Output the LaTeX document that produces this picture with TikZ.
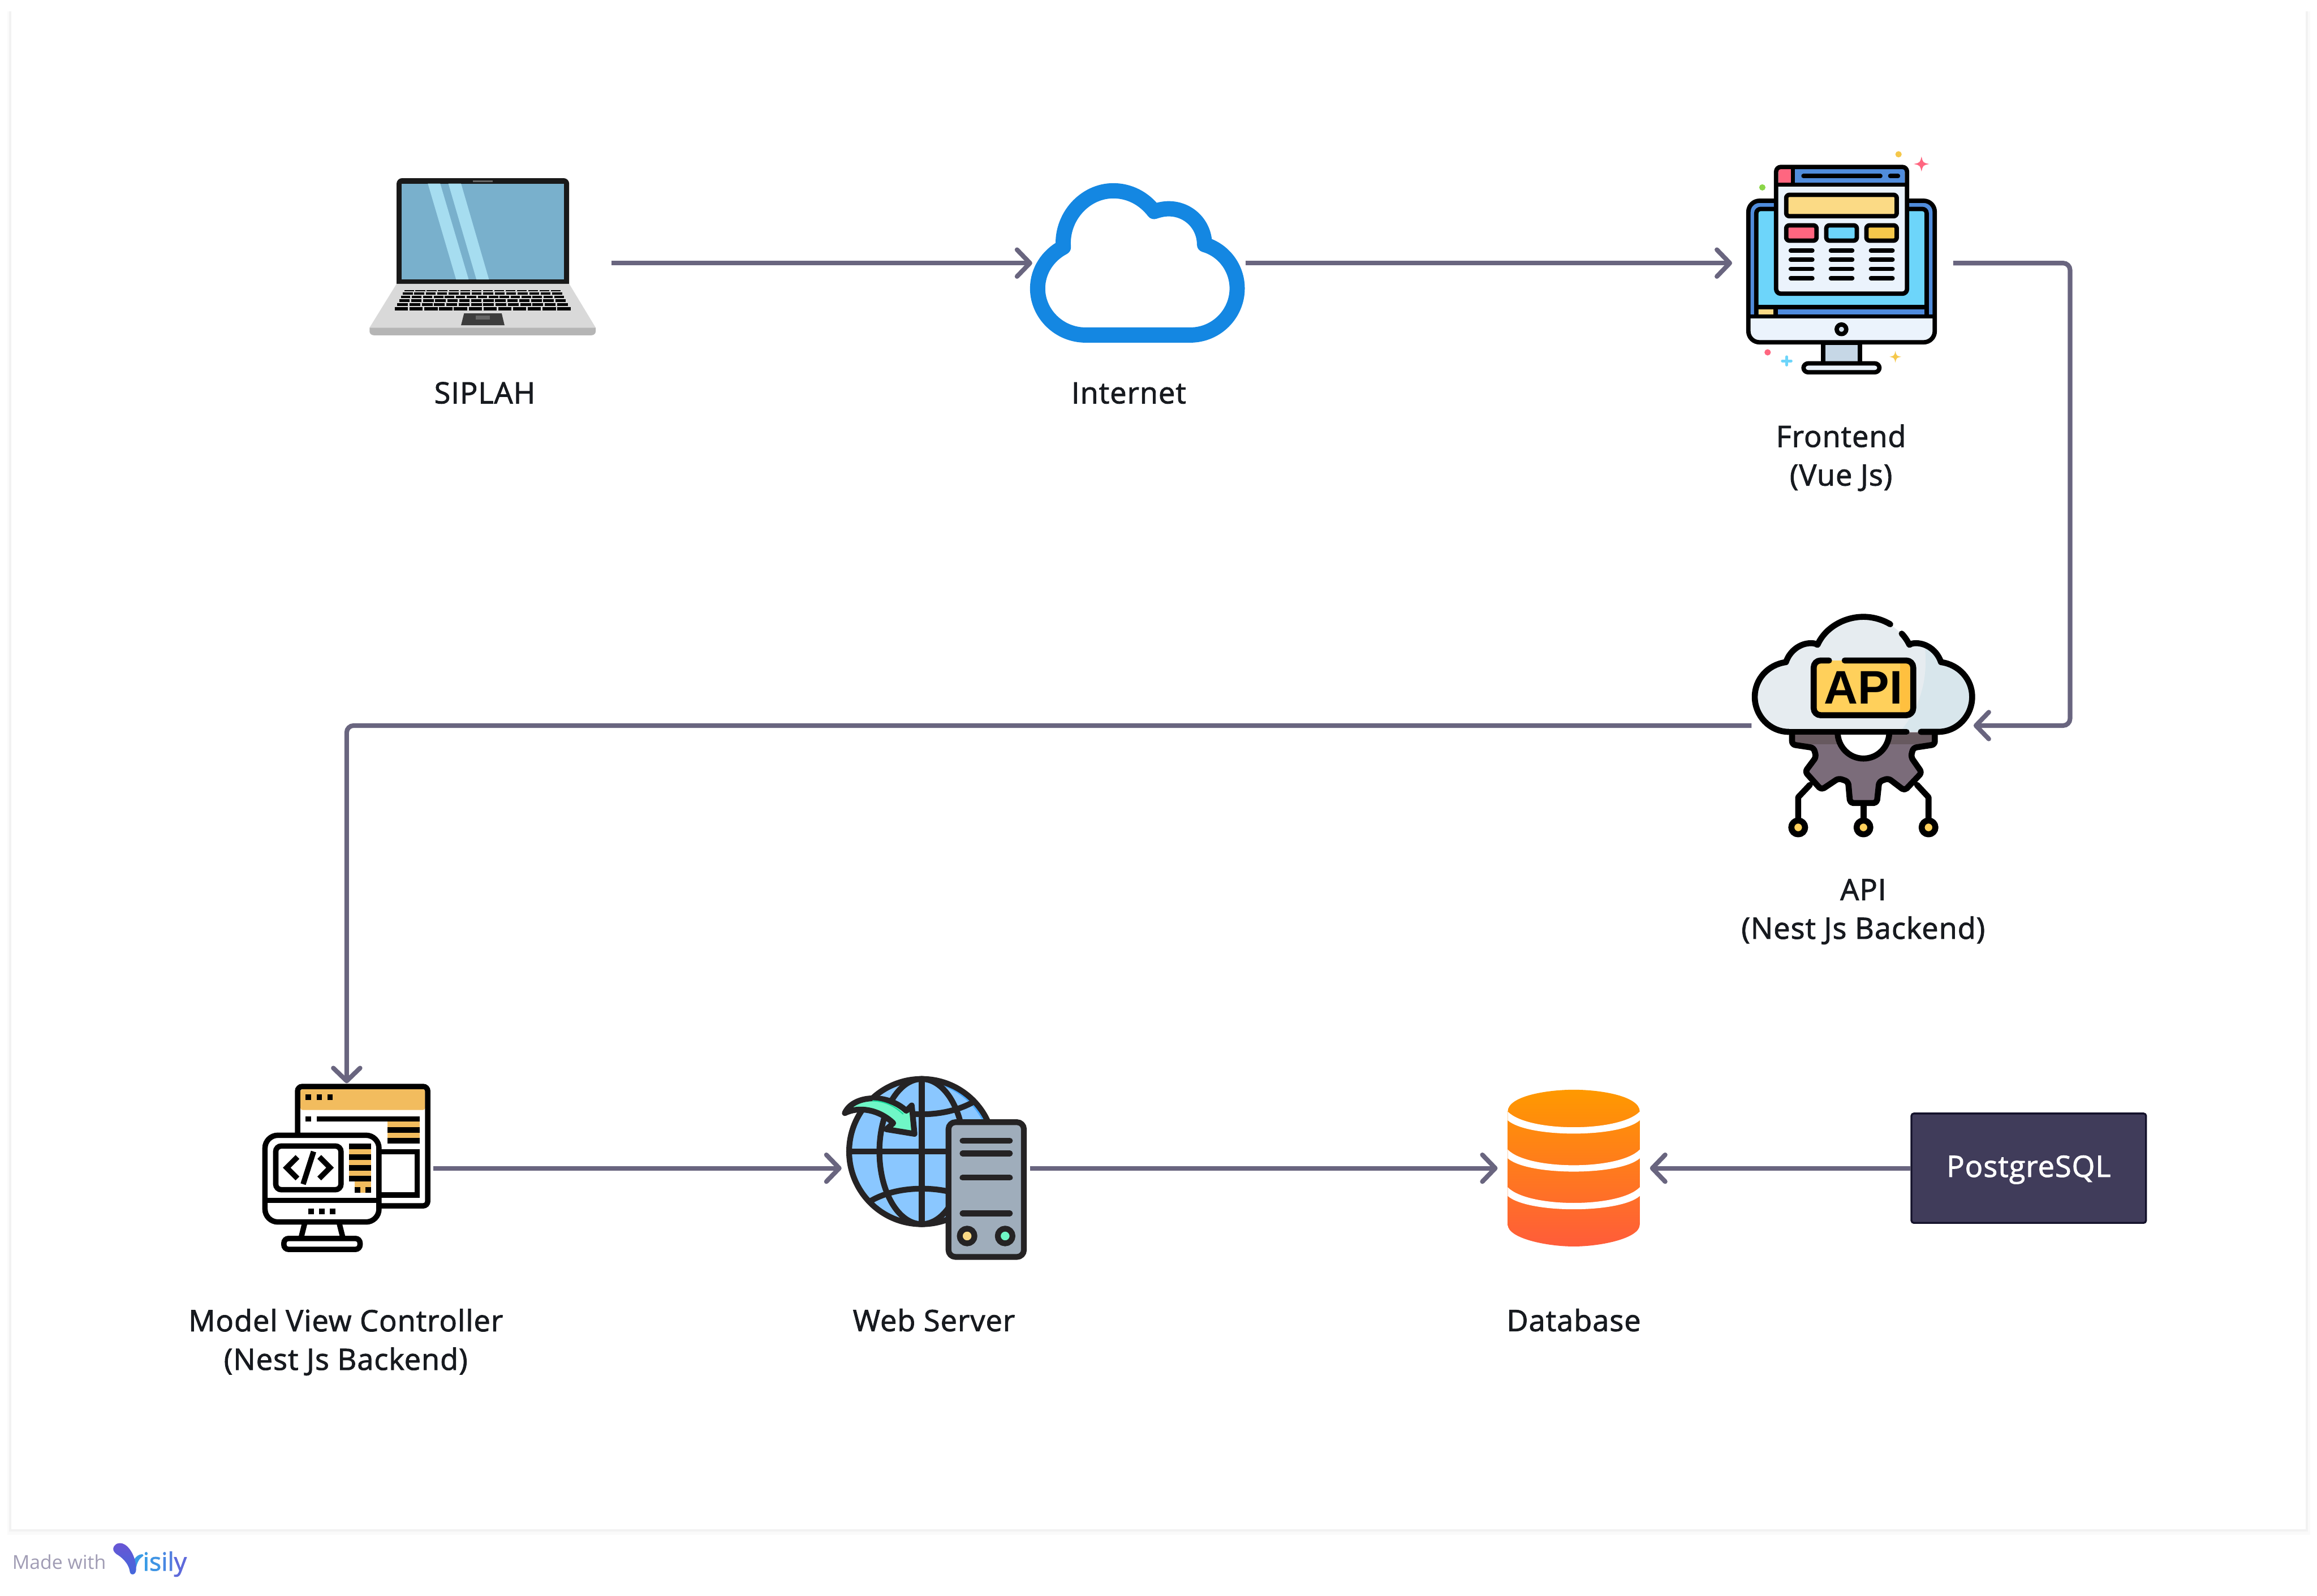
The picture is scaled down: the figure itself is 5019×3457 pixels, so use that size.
\documentclass[tikz,border=0pt]{standalone}
\usepackage{fontspec}
\setmainfont{Open Sans}[FakeBold=1.8,LetterSpace=2]
\newfontfamily\glyphfont{Liberation Sans}
\newfontfamily\plainfont{Open Sans}
\usetikzlibrary{arrows.meta,positioning,calc}
\definecolor{flow}{HTML}{69657F}
\definecolor{ink}{HTML}{171A1F}
\definecolor{night}{HTML}{403C5A}
\definecolor{nightedge}{HTML}{14122B}
\definecolor{fade}{HTML}{A09CB4}
\definecolor{skyline}{HTML}{1487E2}
\definecolor{screenblue}{HTML}{79B0CC}
\definecolor{glare}{HTML}{A6DDF0}
\definecolor{framefill}{HTML}{508CDC}
\definecolor{panel}{HTML}{6DD5FA}
\definecolor{paper}{HTML}{EBF3FC}
\definecolor{butter}{HTML}{FBDA85}
\definecolor{rosey}{HTML}{FF6680}
\definecolor{mustard}{HTML}{F5C84B}
\definecolor{steel}{HTML}{C6D7E6}
\definecolor{leaf}{HTML}{8BD648}
\definecolor{cloudpale}{HTML}{E6ECF0}
\definecolor{cloudshade}{HTML}{D8E6EC}
\definecolor{cog}{HTML}{7B6C7A}
\definecolor{cogdark}{HTML}{67595F}
\definecolor{amber}{HTML}{FFD05B}
\definecolor{amberdark}{HTML}{FFC03F}
\definecolor{sand}{HTML}{F2BC5E}
\definecolor{coal}{HTML}{252324}
\definecolor{globe}{HTML}{8AC7FF}
\definecolor{globedark}{HTML}{4AA8FF}
\definecolor{mint}{HTML}{6FF7C6}
\definecolor{mintdark}{HTML}{19D99B}
\definecolor{rack}{HTML}{9FADBB}
\definecolor{dbtop}{HTML}{FF9900}
\definecolor{dbbottom}{HTML}{FF5C3A}
\definecolor{logopurple}{HTML}{6A55D4}
\definecolor{logoblue}{HTML}{4169DC}
\definecolor{logosky}{HTML}{3A9BE6}
\definecolor{logolate}{HTML}{5E6ADB}
\tikzset{
  flowline/.style={flow,line width=1mm,-{Straight Barb[length=2.8mm,width=5.8mm,round,line width=1mm]}},
  iconbox/.style={inner sep=0pt,outer sep=0pt},
  caption/.style={font=\fontsize{18.2}{23.8}\selectfont,text=ink,align=center,anchor=base,inner sep=0pt},
  thinline/.style={line width=.95mm,line join=round},
  blackline/.style={line width=1.17mm},
  coalline/.style={draw=coal,line width=1.25mm,line cap=round,line join=round},
  cloudline/.style={line width=1.3mm,line cap=round,line join=round}
}
\begin{document}
\begin{tikzpicture}[x=0.1mm,y=-0.1mm]
\useasboundingbox (0,0) rectangle (5019,3457);
\fill[white] (0,0) rectangle (5019,3457);
% page frame
\fill[black!2] (16,24) rectangle (5004,3326);
\fill[black!5] (20,24) rectangle (4999,3318);
\fill[white] (24,24) rectangle (4995,3313);

% laptop
\begin{scope}[shift={(750,330)},x=0.03827mm,y=-0.03333mm]
  \fill[black!90,rounded corners=1.2mm] (285,168) rectangle (1262,900);
  \fill[screenblue] (313,203) rectangle (1233,827);
  \fill[glare] (462,203) -- (532,203) -- (693,827) -- (622,827) -- cycle;
  \fill[glare] (578,203) -- (650,203) -- (808,827) -- (737,827) -- cycle;
  \fill[black!60] (718,181) rectangle (828,192);
  \fill[black!15] (285,855) -- (1262,855) -- (1412,1140) -- (132,1140) -- cycle;
  \fill[black!29] (132,1140) -- (1412,1140) -- (1412,1165) .. controls (1412,1180) and (1400,1190) .. (1385,1190)
    -- (160,1190) .. controls (145,1190) and (132,1180) .. (132,1165) -- cycle;
  \foreach \ya/\yb/\xa/\xb/\n in {895/905/328/1213/14,910/925/320/1222/14,932/948/310/1232/15,
    955/972/300/1242/14,982/998/288/1255/14,1008/1027/275/1270/12}{
    \pgfmathsetmacro\kw{(\xb-\xa+9)/\n}
    \foreach \i in {1,...,\n}{
      \fill[black] ({\xa+(\i-1)*\kw},\ya) rectangle ({\xa+\i*\kw-9},\yb);
    }
  }
  \fill[black!76] (667,1047) -- (880,1047) -- (896,1124) -- (650,1124) -- cycle;
  \fill[black!60] (733,1062) rectangle (813,1087);
\end{scope}

% internet cloud
\begin{scope}[shift={(2200,370)},x=0.03333mm,y=-0.03333mm]
  \draw[skyline,line width=3.3mm,line join=round] (455,1068) .. controls (283,1068) and (143,930) .. (143,765)
    .. controls (143,650) and (210,550) .. (310,497)
    .. controls (295,300) and (450,130) .. (635,130) .. controls (740,130) and (835,180) .. (900,265)
    .. controls (935,253) and (965,247) .. (995,247) .. controls (1125,247) and (1228,350) .. (1228,480)
    .. controls (1350,515) and (1440,630) .. (1440,765) .. controls (1440,930) and (1305,1068) .. (1135,1068) -- cycle;
\end{scope}

% frontend monitor
\begin{scope}[shift={(3700,300)},x=0.03827mm,y=-0.03571mm]
  \fill[framefill,rounded corners=2.4mm] (228,378) rectangle (1283,1237);
  \begin{scope}
    \clip (100,1080) rectangle (1400,1300);
    \fill[paper,rounded corners=2.4mm] (228,378) rectangle (1283,1237);
  \end{scope}
  \filldraw[fill=panel,thinline,rounded corners=.9mm] (273,1080) -- (273,428) -- (1237,428) -- (1237,1080);
  \fill[framefill] (395,1030) rectangle (1225,1075);
  \fill[butter] (286,1030) rectangle (371,1075);
  \draw[thinline] (273,1023) -- (1237,1023);
  \draw[thinline] (383,1023) -- (383,1080);
  \draw[thinline] (228,1080) -- (1283,1080);
  \draw[thinline,rounded corners=2.4mm] (228,378) rectangle (1283,1237);
  \filldraw[fill=steel!80!white,thinline] (755,1158) ellipse [x radius=27,y radius=29];
  \filldraw[fill=steel,thinline] (651,1240) rectangle (860,1365);
  \filldraw[fill=paper,thinline,rounded corners=1mm] (540,1365) rectangle (970,1419);
  % browser window
  \fill[paper,rounded corners=1mm] (385,173) rectangle (1126,942);
  \fill[rosey] (397,185) rectangle (468,268);
  \fill[framefill] (492,185) rectangle (1113,268);
  \draw[thinline] (385,280) -- (1126,280);
  \draw[thinline] (480,173) -- (480,280);
  \draw[thinline,rounded corners=1mm] (385,173) rectangle (1126,942);
  \draw[thinline,line cap=round] (540,228) -- (975,228);
  \draw[thinline,line cap=round] (1031,228) -- (1075,228);
  \filldraw[fill=butter,thinline,rounded corners=.7mm] (442,342) rectangle (1068,472);
  \foreach \xa/\xb/\c in {442/614/rosey,669/842/panel,896/1068/mustard}{
    \filldraw[fill=\c,thinline,rounded corners=.7mm] (\xa,527) rectangle (\xb,620);
  }
  \foreach \y in {680,736,792,848}{
    \foreach \xa/\xb in {468/590,695/816,922/1044}{
      \draw[thinline,line cap=round] (\xa,\y) -- (\xb,\y);
    }
  }
  % sparkles
  \fill[mustard] (1078,96) ellipse [x radius=18,y radius=19];
  \fill[leaf] (307,297) ellipse [x radius=18,y radius=19];
  \fill[rosey] (337,1298) ellipse [x radius=18,y radius=19];
  \draw[panel,line width=.6mm,line cap=round] (445,1325) -- (445,1375);
  \draw[panel,line width=.6mm,line cap=round] (420,1350) -- (470,1350);
  \foreach \sx/\sy/\sc/\sk in {1208/155/rosey/1,1060/1325/mustard/.76}{
    \fill[\sc,shift={(\sx,\sy)},scale=\sk] (0,-46) .. controls (8,-8) .. (44,0) .. controls (8,8) .. (0,46)
      .. controls (-8,8) .. (-44,0) .. controls (-8,-8) .. (0,-46) -- cycle;
  }
\end{scope}

% api cloud and cog
\begin{scope}[shift={(3680,1290)},x=0.04146mm,y=-0.03571mm]
  \def\cloudtop{(470,828) .. controls (370,828) and (292,730) .. (292,615) .. controls (292,510) and (360,420) .. (455,405)
    .. controls (475,335) and (530,290) .. (585,290) .. controls (600,290) and (610,292) .. (620,300)
    .. controls (660,195) and (760,130) .. (860,130) .. controls (910,130) and (960,147) .. (1000,175)}
  \def\cloudright{.. controls (1075,250) and (1090,275) .. (1100,300) .. controls (1110,292) and (1120,290) .. (1135,290)
    .. controls (1190,290) and (1245,335) .. (1265,405) .. controls (1360,420) and (1428,510) .. (1428,615)
    .. controls (1428,730) and (1350,828) .. (1250,828) -- (1160,828)}
  % circuit legs
  \draw[cloudline] (580,1150) -- (519,1225) -- (519,1360);
  \draw[cloudline] (860,1275) -- (860,1360);
  \draw[cloudline] (1140,1150) -- (1200,1225) -- (1200,1360);
  \foreach \x in {519,860,1200}{
    \filldraw[fill=amber,cloudline] (\x,1408) ellipse [x radius=36,y radius=42];
  }
  \fill[cog,rounded corners=.5mm] (487,830) -- (487,895) -- (600,925) -- (613,980) -- (555,1070) -- (640,1180)
    -- (730,1110) -- (780,1130) -- (790,1260) -- (930,1260) -- (942,1130) -- (990,1110) -- (1075,1185)
    -- (1165,1075) -- (1108,980) -- (1120,925) -- (1233,895) -- (1233,830) -- cycle;
  \fill[cogdark] (503,830) rectangle (1217,905);
  \draw[cloudline,rounded corners=.7mm] (487,830) -- (487,905) -- (600,925) -- (613,980) -- (555,1070) -- (640,1180)
    -- (730,1110) -- (780,1130) -- (790,1260) -- (930,1260) -- (942,1130) -- (990,1110) -- (1075,1185)
    -- (1165,1075) -- (1108,980) -- (1120,925) -- (1233,905) -- (1233,830);
  \filldraw[fill=white,cloudline] (725,830) arc[start angle=180,end angle=0,x radius=135,y radius=160];
  \fill[cloudpale] \cloudtop -- (1060,232) \cloudright -- cycle;
  \begin{scope}
    \clip \cloudtop -- (1060,232) \cloudright -- cycle;
    \fill[cloudshade] (1180,300) .. controls (1200,500) and (1160,680) .. (1050,828) -- (1500,828) -- (1500,300) -- cycle;
  \end{scope}
  \draw[cloudline] \cloudtop;
  \draw[cloudline] (1060,232) \cloudright;
  \draw[cloudline] (1085,828) -- (470,828);
  % api badge
  \fill[amber,rounded corners=1.2mm] (600,395) rectangle (1120,727);
  \fill[amberdark] (1050,413) rectangle (1103,707);
  \draw[cloudline,rounded corners=1.5mm] (762,395) -- (1120,395) -- (1120,727) -- (600,727) -- (600,395) -- (680,395);
  \node[inner sep=0pt,font=\glyphfont\bfseries\fontsize{29}{29}\selectfont] (apibadge) at (860,560) {API};
\end{scope}

% mvc windows
\begin{scope}[shift={(530,2300)},x=0.03333mm,y=-0.03333mm]
  \fill[white,rounded corners=1mm] (344,162) rectangle (1190,938);
  \fill[sand,rounded corners=.5mm] (362,180) rectangle (1173,315);
  \draw[blackline,rounded corners=1mm] (344,162) rectangle (1190,938);
  \foreach \x in {396,467,537}{
    \fill[black] (\x,214) rectangle ++(36,36);
  }
  \fill[black] (396,355) rectangle (432,391);
  \fill[black] (467,355) rectangle (1138,391);
  \fill[sand] (927,391) rectangle (1138,497);
  \fill[black] (927,426) rectangle (1138,462);
  \fill[black] (927,497) rectangle (1138,533);
  \fill[black] (800,568) rectangle (1138,885);
  \fill[white] (800,603) rectangle (1104,850);
  \filldraw[fill=white,blackline,rounded corners=2.8mm] (132,479) rectangle (873,1043);
  \draw[blackline] (132,903) -- (873,903);
  \foreach \x in {414,485,555}{
    \fill[black] (\x,957) rectangle ++(36,36);
  }
  \draw[blackline,rounded corners=1.2mm] (202,549) rectangle (626,833);
  \draw[blackline] (343,620) -- (273,690) -- (343,760);
  \draw[blackline] (485,620) -- (555,690) -- (485,760);
  \draw[blackline] (448,585) -- (380,797);
  \fill[sand] (679,568) rectangle (821,744);
  \fill[sand] (714,780) rectangle (821,851);
  \foreach \y in {532,603,674,744}{
    \fill[black] (679,\y) rectangle (821,\y+36);
  }
  \fill[black] (714,815) rectangle (750,851);
  \fill[black] (786,815) rectangle (821,851);
  \draw[blackline] (390,1052) -- (368,1140);
  \draw[blackline] (615,1052) -- (637,1140);
  \filldraw[fill=white,blackline,rounded corners=1mm] (255,1221) -- (255,1150) -- (750,1150) -- (750,1221) -- cycle;
\end{scope}

% web server
\begin{scope}[shift={(1780,2290)},x=0.03333mm,y=-0.03333mm]
  \fill[globedark] (650,615) circle [radius=472];
  \begin{scope}
    \clip (650,615) circle [radius=472];
    \fill[globe] (625,632) circle [radius=472];
  \end{scope}
  \draw[coalline] (650,615) circle [radius=472];
  \draw[coalline] (650,615) ellipse [x radius=275,y radius=472];
  \draw[coalline] (650,143) -- (650,1087);
  \draw[coalline] (178,615) -- (1122,615);
  \draw[coalline] (310,290) .. controls (500,400) and (800,400) .. (990,290);
  \draw[coalline] (320,935) .. controls (500,830) and (800,830) .. (990,935);
  % arrow over the globe
  \filldraw[fill=mint,coalline] (150,365) .. controls (200,250) and (420,230) .. (550,350) -- (585,315) -- (603,500)
    -- (420,470) -- (465,430) .. controls (370,340) and (240,320) .. (150,365) -- cycle;
  \draw[mintdark,line width=.25mm] (330,285) .. controls (420,288) and (480,325) .. (530,372);
  % rack unit
  \filldraw[fill=rack,coalline,rounded corners=1.5mm] (824,424) rectangle (1314,1300);
  \foreach \y in {545,627,785,1017}{
    \draw[coalline] (915,\y) -- (1223,\y);
  }
  \filldraw[fill=butter,coalline] (945,1164) circle [radius=48];
  \filldraw[fill=mint,coalline] (1192,1164) circle [radius=48];
\end{scope}

% database
\begin{scope}[shift={(3200,2320)},x=0.03333mm,y=-0.03333mm]
  \shade[top color=dbtop,bottom color=dbbottom]
    (198,265) .. controls (198,165) and (450,123) .. (627,123) .. controls (804,123) and (1056,165) .. (1056,265)
    -- (1056,1000) .. controls (1056,1090) and (800,1142) .. (627,1142) .. controls (454,1142) and (198,1090) .. (198,1000) -- cycle;
  \foreach \dy in {0,247,492}{
    \fill[white,shift={(0,\dy)}] (198,265) .. controls (330,401) and (924,401) .. (1056,265)
      -- (1056,322) .. controls (924,437) and (330,437) .. (198,322) -- cycle;
  }
\end{scope}

% visily mark
\begin{scope}[shift={(0,3250)},x=0.03333mm,y=-0.03333mm]
  \fill[logosky] (873,385) .. controls (885,365) and (905,352) .. (925,352) .. controls (935,360) .. (925,368)
    .. controls (905,380) and (890,410) .. (885,440) -- cycle;
  \shade[top color=logopurple,bottom color=logoblue] (737,318) .. controls (737,290) and (765,275) .. (795,282)
    .. controls (840,295) and (885,370) .. (885,450) .. controls (885,490) and (845,495) .. (843,460)
    .. controls (835,410) and (790,370) .. (755,350) .. controls (745,342) and (737,332) .. (737,318) -- cycle;
\end{scope}
\node[anchor=base west,inner sep=0pt,text=fade,font=\plainfont\fontsize{11.8}{14}\selectfont] (madewith) at (26,3400) {Made with};
\node[anchor=base west,inner sep=0pt,font=\fontsize{15.5}{18}\selectfont] (isily) at (309,3403)
  {\textcolor{logosky}{i}\textcolor{logosky!85!logolate}{s}\textcolor{logosky!60!logolate}{i}\textcolor{logosky!40!logolate}{l}\textcolor{logolate}{y}};

% anchors of the connectors
\node[iconbox,minimum width=56mm,minimum height=34mm] (laptop) at (1045,570) {};
\node[iconbox,minimum width=46.2mm,minimum height=34mm] (internet) at (2467,570) {};
\node[iconbox,minimum width=47.9mm,minimum height=34mm] (frontend) at (3991.5,570) {};
\node[iconbox,minimum width=48.1mm,minimum height=34mm] (api) at (4034.5,1572) {};
\node[iconbox,minimum width=37.6mm,minimum height=36.8mm] (mvc) at (751,2531) {};
\node[iconbox,minimum width=40.8mm,minimum height=34mm] (webserver) at (2027,2531) {};
\node[iconbox,minimum width=33mm,minimum height=34mm] (database) at (3409,2531) {};
\node[fill=night,draw=nightedge,line width=.4mm,rounded corners=.5mm,text=white,font=\fontsize{18.2}{22}\selectfont,
  minimum width=50.8mm,minimum height=23.7mm,inner sep=0pt,text height=4.57mm,text depth=.8mm] (postgres) at (4394.5,2531) {PostgreSQL};

% connectors
\draw[flowline] (laptop.east) -- (internet.west);
\draw[flowline] (internet.east) -- (frontend.west);
\draw[flowline,rounded corners=1.5mm] (frontend.east) -- ++(253,0) |- (api.east);
\draw[flowline,rounded corners=1.5mm] (api.west) -| (mvc.north);
\draw[flowline] (mvc.east) -- (webserver.west);
\draw[flowline] (webserver.east) -- (database.west);
\draw[flowline] (postgres.west) -- (database.east);

% captions
\node[caption] (siplahtext) at (1050,874) {SIPLAH};
\node[caption] (internettext) at (2445,874) {Internet};
\node[caption] (frontendtext) at (3988,1052) {Frontend\\(Vue Js)};
\node[caption] (apitext) at (4036,2034) {API\\(Nest Js Backend)};
\node[caption] (mvctext) at (749,2968) {Model View Controller\\(Nest Js Backend)};
\node[caption] (webtext) at (2023,2884) {Web Server};
\node[caption] (dbtext) at (3409,2884) {Database};
\end{tikzpicture}
\end{document}
